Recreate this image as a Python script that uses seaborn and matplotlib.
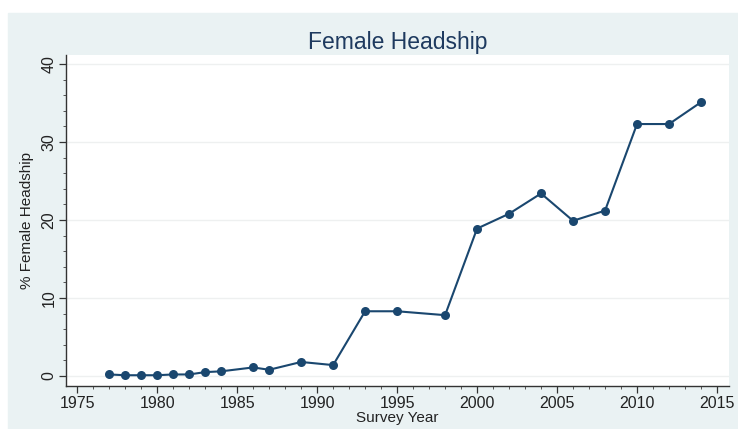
import matplotlib
matplotlib.use("Agg")
import matplotlib.pyplot as plt
from matplotlib.patches import Rectangle
from matplotlib.ticker import MultipleLocator
import pandas as pd
import seaborn as sns

# survey years and % of female-headed households
years = [1977, 1978, 1979, 1980, 1981, 1982, 1983, 1984, 1986, 1987, 1989, 1991,
         1993, 1995, 1998, 2000, 2002, 2004, 2006, 2008, 2010, 2012, 2014]
female_head = [0.2, 0.1, 0.1, 0.1, 0.2, 0.2, 0.5, 0.6, 1.1, 0.8, 1.8, 1.4,
               8.3, 8.3, 7.8, 18.9, 20.8, 23.4, 19.9, 21.2, 32.3, 32.3, 35.1]

x_ticks = [1975, 1980, 1985, 1990, 1995, 2000, 2005, 2010, 2015]
y_ticks = [0, 10, 20, 30, 40]

df = pd.DataFrame({"year": years, "pct": female_head})

sns.set_theme(style="white")
plt.rcParams["font.family"] = ["Liberation Sans", "DejaVu Sans"]

W, H = 738, 429
fig = plt.figure(figsize=(W / 100, H / 100), dpi=100, facecolor="white")
# stata-like light background band
fig.patches.append(Rectangle((8 / W, 0), 1 - 8 / W, (H - 13) / H,
                             transform=fig.transFigure, color="#EAF2F3", zorder=-5))

ax = fig.add_axes([66 / W, (H - 386) / H, (729 - 66) / W, (386 - 55) / H])
ax.set_facecolor("white")

sns.lineplot(data=df, x="year", y="pct", ax=ax, color="#1A476F", linewidth=1.5,
             marker="o", markersize=6.5, markeredgewidth=0)

ax.set_xlim(1974.3, 2015.75)
ax.set_ylim(-1.28, 41.15)
ax.set_xticks(x_ticks)
ax.set_yticks(y_ticks)
ax.xaxis.set_minor_locator(MultipleLocator(1))
ax.yaxis.set_minor_locator(MultipleLocator(2))
ax.grid(axis="y", which="major", color="#EEF0F0", linewidth=1)

for s in ["top", "right"]:
    ax.spines[s].set_visible(False)
for s in ["left", "bottom"]:
    ax.spines[s].set_color("#333333")
    ax.spines[s].set_linewidth(1)

ax.tick_params(which="major", direction="out", length=5, width=0.9, color="#333333",
               labelsize=11.5, labelcolor="#222222", left=True, bottom=True, pad=2)
ax.tick_params(which="minor", direction="out", length=2.5, width=0.7, color="#555555",
               left=True, bottom=True)
for lbl in ax.get_yticklabels():
    lbl.set_rotation(90)
    lbl.set_va("center")

ax.set_xlabel("Survey Year", fontsize=11, color="#222222", labelpad=0.5)
ax.set_ylabel("% Female Headship", fontsize=11, color="#222222", labelpad=5)
ax.set_title("Female Headship", fontsize=16.5, color="#1E3A5F", pad=4)

fig.savefig("out.png", dpi=100, facecolor=fig.get_facecolor())
